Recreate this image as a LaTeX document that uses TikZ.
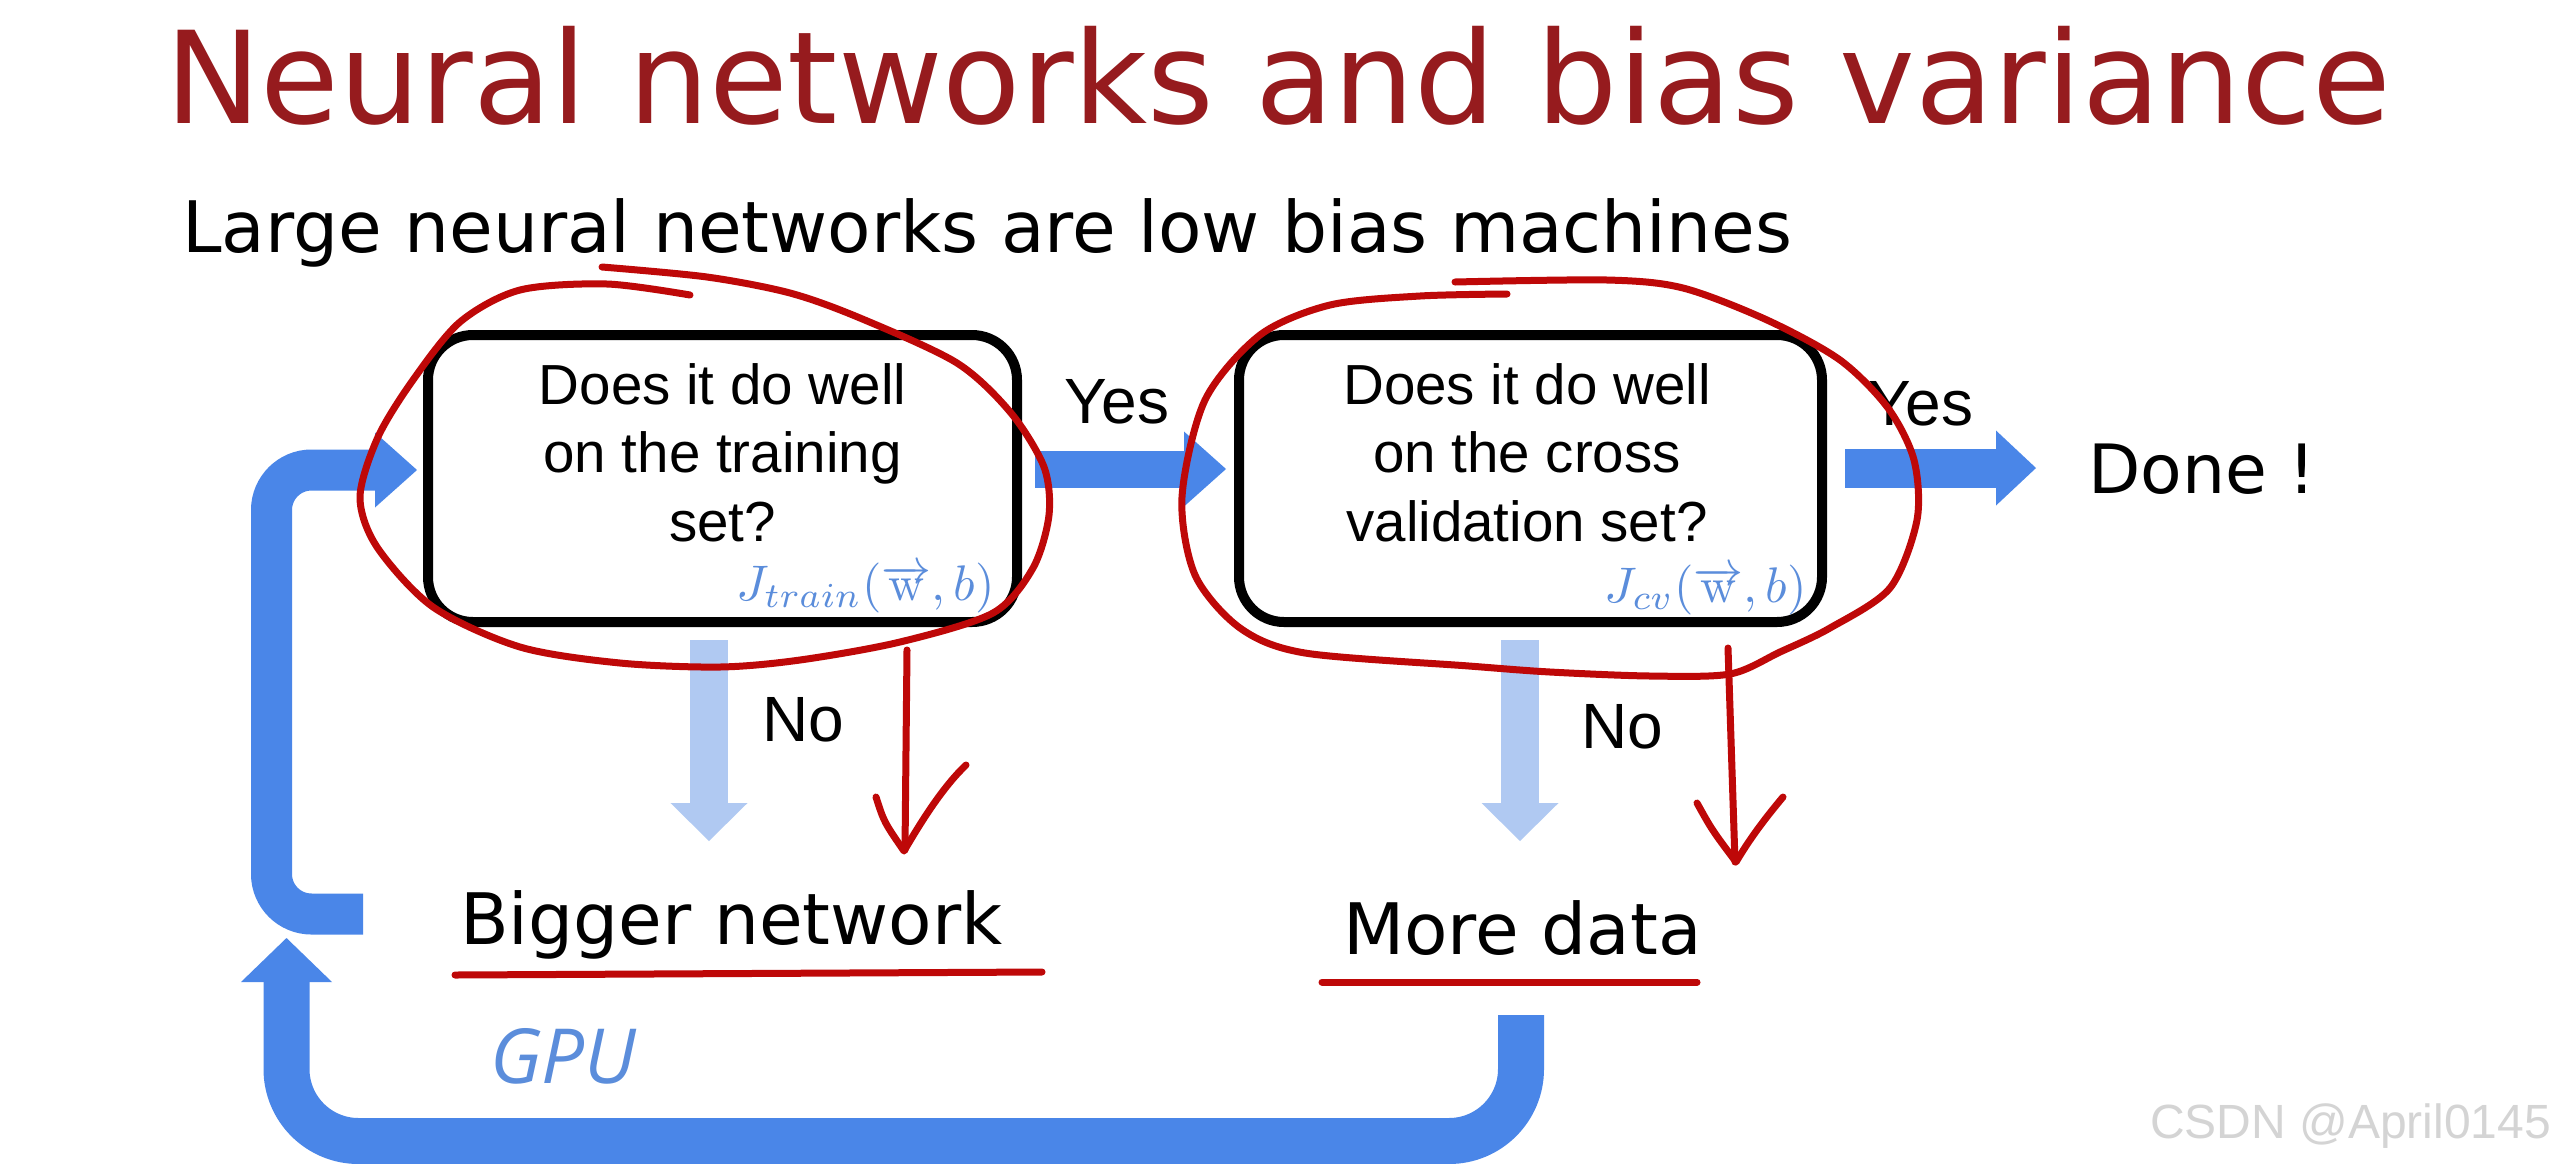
\documentclass[tikz,border=0pt]{standalone}
\usepackage{fontspec}
\usepackage{graphicx}
\usetikzlibrary{calc}
\newfontfamily\verd{DejaVu Sans}
\newfontfamily\arl{Liberation Sans}
\newfontfamily\gpuf{Open Sans}
\definecolor{titlered}{HTML}{961B1E}
\definecolor{bblue}{HTML}{4A86E8}
\definecolor{lblue}{HTML}{B0C9F2}
\definecolor{penred}{HTML}{BE0808}
\definecolor{jblue}{HTML}{5B8DDB}
\begin{document}
\begin{tikzpicture}[x=1pt,y=-1pt,
  redpen/.style={draw=penred, line width=7pt, line cap=round, line join=round},
  qbox/.style={draw=black, line width=10pt, rounded corners=45pt, inner sep=0pt},
  qtext/.style={font=\arl\fontsize{56.5}{68.5}\selectfont, align=center, inner sep=0pt, anchor=north},
  verdlabel/.style={font=\verd\fontsize{71}{80}\selectfont, inner sep=0pt, anchor=base west},
  yn/.style={font=\arl\fontsize{64}{70}\selectfont, inner sep=0pt, anchor=base},
  jlabel/.style={text=jblue, inner sep=0pt, anchor=base east},
  bshaft/.style={draw=bblue},
  lshaft/.style={draw=lblue, line width=38pt}
]
\useasboundingbox (0,0) rectangle (2559,1163);
\fill[white] (0,0) rectangle (2559,1163);

% titles
\node[anchor=base west, inner sep=0pt, text=titlered, font=\verd\fontsize{128}{150}\selectfont] (title) at (165,123) {Neural networks and bias variance};
\node[verdlabel] (subtitle) at (182,252) {Large neural networks are low bias machines};

% boxes
\node[qbox, minimum width=589pt, minimum height=287pt] (box1) at (722.5,478.5) {};
\node[qbox, minimum width=583pt, minimum height=287pt] (box2) at (1530.5,478.5) {};
\node[qtext] (t1) at (722.5,363) {Does it do well\\on the training\\set?};
\node[qtext] (t2) at (1527,363) {Does it do well\\on the cross\\validation set?};
\node[jlabel] (j1) at (995,600) {\scalebox{5.0}{$J_{train}(\overrightarrow{\mathrm{w}},b)$}};
\node[jlabel] (j2) at (1807,602) {\scalebox{5.0}{$J_{cv}(\overrightarrow{\mathrm{w}},b)$}};

% other labels
\node[yn] (yes1) at (1117,423) {Yes};
\node[yn] (yes2) at (1921,425) {Yes};
\node[yn] (no1) at (803,741) {No};
\node[yn] (no2) at (1622,748) {No};
\node[anchor=base west, inner sep=0pt, font=\verd\fontsize{68}{75}\selectfont] (done) at (2088,493) {Done !};
\node[verdlabel] (bigger) at (460,944) {Bigger network};
\node[verdlabel] (more) at (1343,954) {More data};
\node[anchor=base west, inner sep=0pt, text=jblue, font=\gpuf\itshape\fontsize{76}{80}\selectfont] (gpu) at (490,1083) {GPU};
\node[anchor=base west, inner sep=0pt, text=black!17, font=\arl\fontsize{48}{52}\selectfont] (wm) at (2150,1138) {CSDN @April0145};

% main blue arrows
\coordinate (a1s) at (1035,469); \coordinate (a1t) at (1226,469);
\draw[bshaft, line width=37pt] (a1s) -- (1185,469);
\fill[bblue] (a1t) -- (1184,431.5) -- (1184,506.5) -- cycle;
\coordinate (a2s) at (1845,468); \coordinate (a2t) at (2036,468);
\draw[bshaft, line width=39pt] (a2s) -- (1997,468);
\fill[bblue] (a2t) -- (1996,430.5) -- (1996,505.5) -- cycle;

% light blue "No" arrows
\coordinate (n1s) at (709,640); \coordinate (n1t) at (709,841);
\draw[lshaft] (n1s) -- (709,804);
\fill[lblue] (n1t) -- (670.5,803) -- (747.5,803) -- cycle;
\coordinate (n2s) at (1520,640); \coordinate (n2t) at (1520,841);
\draw[lshaft] (n2s) -- (1520,804);
\fill[lblue] (n2t) -- (1481.5,803) -- (1558.5,803) -- cycle;

% upper loop: Bigger network -> box1
\coordinate (ulS) at (363,914); \coordinate (ulT) at (417,470);
\draw[bshaft, line width=41pt, rounded corners=40pt] (ulS) -- (271.5,914) -- (271.5,470) -- (376,470);
\fill[bblue] (ulT) -- (375,432.5) -- (375,507.5) -- cycle;

% bottom loop: More data -> Bigger network
\coordinate (blS) at (1521,1015); \coordinate (blT) at (286.5,938);
\draw[bshaft, line width=46pt, rounded corners=72pt] (blS) -- (1521,1141) -- (286.5,1141) -- (286.5,981);
\fill[bblue] (blT) -- (241,982) -- (332,982) -- cycle;

% red hand-drawn annotations
\draw[redpen] plot[smooth] coordinates {(602,267) (707,277) (790,293) (860,318) (957,363) (1011,413) (1044,467) (1049,515) (1033,568) (993,613) (900,642) (800,660) (720,667) (620,663) (520,647) (433,607) (377,547) (360,497) (378,437) (413,380) (460,322) (520,290) (607,284) (690,295)};
\draw[redpen] plot[smooth] coordinates {(1455,282) (1607,280) (1683,288) (1767,320) (1840,360) (1888,408) (1914,460) (1917,520) (1890,588) (1830,628) (1780,652) (1730,674) (1650,676) (1550,672) (1469,666) (1305,653) (1240,628) (1195,575) (1182,497) (1205,400) (1260,335) (1330,305) (1420,296) (1507,294)};
\draw[redpen] (907,650) -- (905,850);
\draw[redpen] (876,797) .. controls (884,822) .. (904,851) .. controls (925,815) and (945,785) .. (966,765);
\draw[redpen] (1728,648) -- (1735,862);
\draw[redpen] (1697,803) .. controls (1712,830) .. (1736,862) .. controls (1752,835) and (1768,815) .. (1783,797);
\draw[redpen] (455,975) -- (1042,972);
\draw[redpen] (1322,982) -- (1697,982);
\end{tikzpicture}
\end{document}
